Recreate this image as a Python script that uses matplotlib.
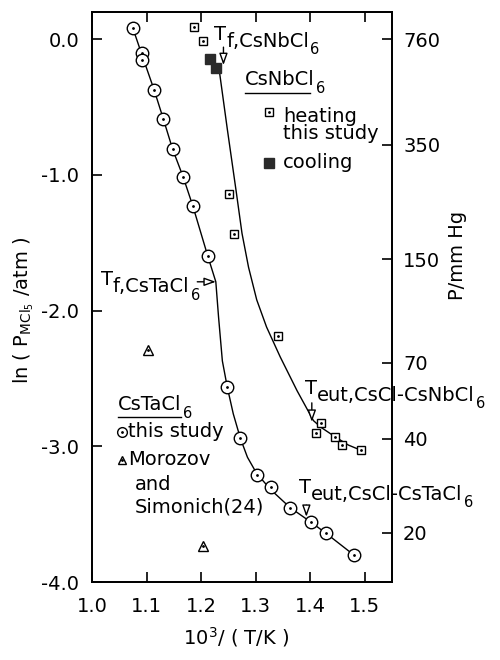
import matplotlib
matplotlib.use("Agg")
import matplotlib.pyplot as plt
import numpy as np

plt.rcParams['font.family'] = ['DejaVu Sans']
plt.rcParams['font.size'] = 14
plt.rcParams['mathtext.default'] = 'regular'
plt.rcParams['axes.unicode_minus'] = False

# CsTaCl6, this study: 10^3/(T/K) vs ln(P/atm)
ta_x = [1.075, 1.092, 1.092, 1.114, 1.131, 1.148, 1.167, 1.185, 1.212, 1.248,
        1.272, 1.302, 1.328, 1.363, 1.402, 1.429, 1.480]
ta_y = [0.081, -0.098, -0.155, -0.374, -0.59, -0.812, -1.013, -1.23, -1.594, -2.563,
        -2.94, -3.21, -3.30, -3.456, -3.56, -3.64, -3.80]

# fitted curve for CsTaCl6
ta_fit_x = [1.075, 1.092, 1.114, 1.131, 1.148, 1.167, 1.185, 1.212, 1.227, 1.232,
            1.239, 1.248, 1.259, 1.272, 1.285, 1.302, 1.328, 1.363, 1.402, 1.429, 1.480]
ta_fit_y = [0.081, -0.12, -0.374, -0.59, -0.812, -1.013, -1.23, -1.594, -1.787, -2.046,
            -2.37, -2.563, -2.76, -2.94, -3.08, -3.20, -3.32, -3.45, -3.56, -3.64, -3.80]

# Morozov and Simonich (24)
mor_x = [1.102, 1.204]
mor_y = [-2.288, -3.734]

# CsNbCl6 heating / cooling
nb_heat_x = [1.187, 1.204, 1.251, 1.260, 1.341, 1.420, 1.411, 1.446, 1.459, 1.494]
nb_heat_y = [0.094, -0.015, -1.137, -1.432, -2.19, -2.829, -2.898, -2.93, -2.99, -3.03]
nb_cool_x = [1.216, 1.227]
nb_cool_y = [-0.143, -0.209]

# fitted curve for CsNbCl6
nb_fit_x = [1.233, 1.248, 1.265, 1.275, 1.287, 1.302, 1.320, 1.345, 1.376, 1.406,
            1.420, 1.446, 1.470, 1.494]
nb_fit_y = [-0.22, -0.66, -1.14, -1.43, -1.68, -1.92, -2.12, -2.34, -2.59, -2.81,
            -2.86, -2.93, -2.99, -3.03]

x_ticks = [1.0, 1.1, 1.2, 1.3, 1.4, 1.5]
y_ticks = [0.0, -1.0, -2.0, -3.0, -4.0]
y_ticklabels = ['0.0', '-1.0', '-2.0', '-3.0', '-4.0']
p_ticks = [760, 350, 150, 70, 40, 20]


def dotted(ax, x, y, marker, ms, **kw):
    ax.plot(x, y, marker, ls='none', mfc='white', mec='k', ms=ms, mew=1.0, zorder=3, **kw)
    ax.plot(x, y, '.', color='k', ms=2, zorder=4, **kw)


def sub_label(ax, x, y, body, head='T', tail='6', lift=5, drop=2.5):
    t = ax.text(x, y, body, ha='left', va='baseline')
    if head:
        ax.annotate(head, xy=(0, 0), xycoords=t, xytext=(0, lift),
                    textcoords='offset points', ha='right', va='bottom')
    if tail:
        ax.annotate(tail, xy=(1, 0), xycoords=t, xytext=(1, -drop),
                    textcoords='offset points', ha='left', va='baseline', fontsize=10.5)
    return t


def arrow(ax, tail, tip):
    ax.annotate('', xy=tip, xytext=tail,
                arrowprops=dict(arrowstyle='-|>,head_length=0.7,head_width=0.25',
                                mutation_scale=10, fc='white', ec='k', lw=1.0,
                                shrinkA=0, shrinkB=0), zorder=5)


fig = plt.figure(figsize=(5, 6.6), dpi=100)
ax = fig.add_axes([0.184, 0.118, 0.6, 0.8636])

ax.plot(ta_fit_x, ta_fit_y, 'k-', lw=1.0, zorder=2)
ax.plot(nb_fit_x, nb_fit_y, 'k-', lw=1.0, zorder=2)
dotted(ax, ta_x, ta_y, 'o', 9)
dotted(ax, mor_x, mor_y, '^', 7)
dotted(ax, nb_heat_x, nb_heat_y, 's', 6)
ax.plot(nb_cool_x, nb_cool_y, 's', color='#2a2a2a', ms=7, zorder=3)

# transition temperatures
arrow(ax, (1.241, -0.058), (1.241, -0.19))
sub_label(ax, 1.246, -0.056, 'f,CsNbCl')
arrow(ax, (1.193, -1.787), (1.227, -1.787))
sub_label(ax, 1.038, -1.865, 'f,CsTaCl')
arrow(ax, (1.403, -2.679), (1.403, -2.819))
sub_label(ax, 1.413, -2.662, 'eut,CsCl-CsNbCl')
arrow(ax, (1.393, -3.433), (1.393, -3.519))
sub_label(ax, 1.402, -3.395, 'eut,CsCl-CsTaCl')

# key for CsNbCl6
sub_label(ax, 1.281, -0.338, 'CsNbCl', head='')
ax.plot([1.281, 1.400], [-0.397, -0.397], 'k-', lw=1.0)
dotted(ax, [1.325], [-0.537], 's', 6)
ax.text(1.350, -0.61, 'heating', ha='left', va='baseline')
ax.text(1.350, -0.735, 'this study', ha='left', va='baseline')
ax.plot([1.325], [-0.913], 's', color='#2a2a2a', ms=7)
ax.text(1.350, -0.95, 'cooling', ha='left', va='baseline')

# key for CsTaCl6
sub_label(ax, 1.047, -2.733, 'CsTaCl', head='')
ax.plot([1.047, 1.163], [-2.785, -2.785], 'k-', lw=1.0)
dotted(ax, [1.055], [-2.895], 'o', 7)
ax.text(1.066, -2.93, 'this study', ha='left', va='baseline')
dotted(ax, [1.055], [-3.10], '^', 6)
ax.text(1.066, -3.14, 'Morozov', ha='left', va='baseline')
ax.text(1.079, -3.32, 'and', ha='left', va='baseline')
ax.text(1.079, -3.485, 'Simonich(24)', ha='left', va='baseline')

ax.set_xlim(1.0, 1.55)
ax.set_ylim(-4.0, 0.2)
ax.set_xticks(x_ticks)
ax.set_xticklabels([f'{v:.1f}' for v in x_ticks])
ax.set_yticks(y_ticks)
ax.set_yticklabels(y_ticklabels)
ax.tick_params(direction='in', length=7, width=1.2, top=True, right=False)
ax.tick_params(axis='x', pad=11)
ax.tick_params(axis='y', pad=9)
for s in ax.spines.values():
    s.set_linewidth(1.3)

ax.set_xlabel('10$^3$/ ( T/K )')
ax.xaxis.set_label_coords(0.48, -0.075)
ax.set_ylabel('ln ( P$_{MCl_5}$ /atm )')
ax.yaxis.set_label_coords(-0.185, 0.477)

ax2 = ax.twinx()
ax2.set_ylim(ax.get_ylim())
ax2.set_yticks(np.log(np.array(p_ticks) / 760.0))
ax2.set_yticklabels([str(p) for p in p_ticks])
ax2.tick_params(direction='in', length=7, width=1.2, pad=8)
for s in ax2.spines.values():
    s.set_linewidth(1.3)
ax2.set_ylabel('P/mm Hg')
ax2.yaxis.set_label_coords(1.187, 0.574)

fig.savefig('out.png', dpi=100)
